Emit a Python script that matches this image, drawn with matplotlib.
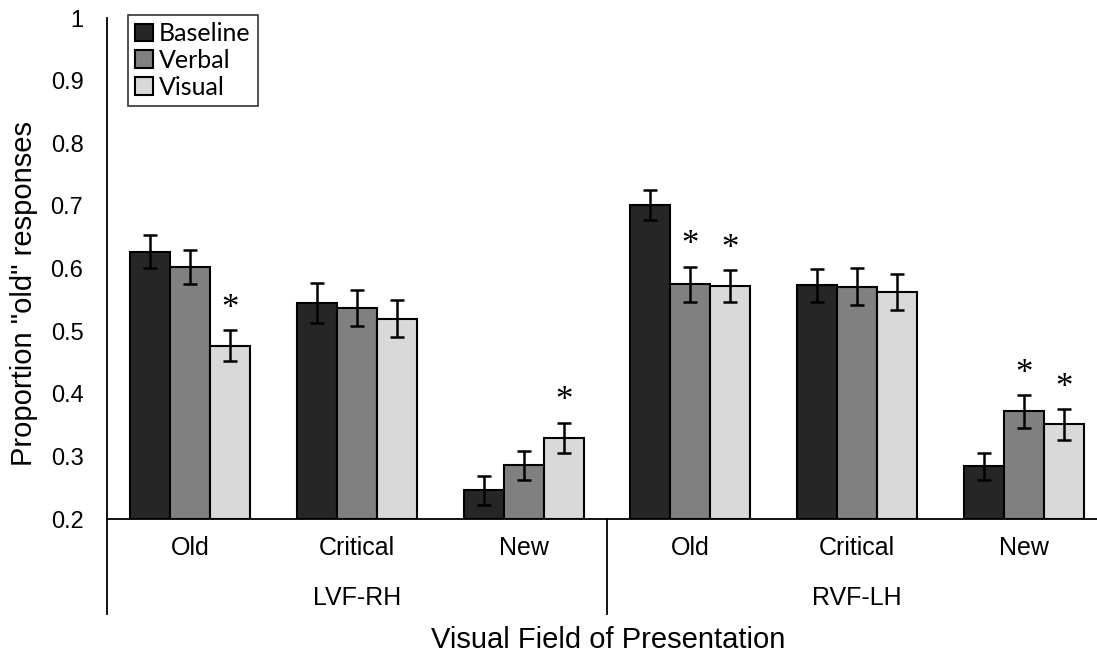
import numpy as np
import matplotlib.pyplot as plt
from matplotlib.lines import Line2D

# data
fields = ["LVF-RH", "RVF-LH"]
items = ["Old", "Critical", "New"]
conditions = ["Baseline", "Verbal", "Visual"]
colors = ["#262626", "#808080", "#d9d9d9"]

baseline = [0.627, 0.545, 0.246, 0.702, 0.573, 0.284]
verbal = [0.602, 0.537, 0.286, 0.575, 0.571, 0.372]
visual = [0.477, 0.520, 0.330, 0.572, 0.562, 0.351]
baseline_err = [0.026, 0.032, 0.023, 0.024, 0.027, 0.021]
verbal_err = [0.027, 0.029, 0.023, 0.028, 0.030, 0.026]
visual_err = [0.024, 0.030, 0.024, 0.026, 0.029, 0.025]
# significance markers (category index, condition index)
stars = [(0, 2), (2, 2), (3, 1), (3, 2), (5, 1), (5, 2)]

values = [baseline, verbal, visual]
errors = [baseline_err, verbal_err, visual_err]

plt.rcParams["font.family"] = ["Liberation Sans", "DejaVu Sans"]

W, H = 1097, 661
fig = plt.figure(figsize=(W / 100, H / 100), dpi=100)
ax = fig.add_axes([107 / W, (H - 519) / H, 1000 / W, 501 / H])

x = np.arange(len(baseline))
width = 0.24
bottom = 0.2
for i, (vals, errs) in enumerate(zip(values, errors)):
    pos = x + (i - 1) * width
    heights = np.array(vals) - bottom
    ax.bar(pos, heights, width, bottom=bottom, color=colors[i],
           edgecolor="black", linewidth=1.5, label=conditions[i], zorder=2)
    ax.errorbar(pos, vals, yerr=errs, fmt="none", ecolor="black",
                elinewidth=1.8, capsize=5, capthick=1.8, zorder=3)

for cat, cond in stars:
    px = x[cat] + (cond - 1) * width
    py = values[cond][cat] + errors[cond][cat]
    ax.annotate("*", (px, py), xytext=(0, 3), textcoords="offset points",
                ha="center", va="bottom", fontsize=25,
                family="Liberation Serif")

ax.set_xlim(-0.5, 5.5)
ax.set_ylim(0.2, 1.0)
ax.set_yticks(np.arange(0.2, 1.01, 0.1))
ax.set_yticklabels(["0.2", "0.3", "0.4", "0.5", "0.6", "0.7", "0.8", "0.9", "1"])
ax.tick_params(axis="y", length=0, labelsize=17, pad=17)
ax.set_xticks([])
for s in ["top", "right"]:
    ax.spines[s].set_visible(False)
ax.spines["left"].set_linewidth(1.3)
ax.spines["bottom"].set_linewidth(1.3)

# category and field labels below the axis
trans = ax.get_xaxis_transform()
for i in x:
    ax.text(i, -0.058, items[i % 3], transform=trans, ha="center",
            va="center", fontsize=18)
for j, f in enumerate(fields):
    ax.text(1 + 3 * j, -0.158, f, transform=trans, ha="center", va="center",
            fontsize=18)
for xv in [-0.5, 2.5]:
    ax.add_line(Line2D([xv, xv], [0, -0.19], transform=trans, color="black",
                       lw=1.3, clip_on=False))

fig.text(608 / W, (H - 640) / H, "Visual Field of Presentation",
         ha="center", va="center", fontsize=21)
fig.text(24 / W, (H - 294) / H, 'Proportion "old" responses', rotation=90,
         ha="center", va="center", fontsize=21)

leg = ax.legend(loc="upper left", bbox_to_anchor=(0.0207, 1.0066),
                frameon=True, fancybox=False, edgecolor="black",
                prop={"family": "Lato", "size": 18},
                handlelength=0.7, handleheight=0.7, handletextpad=0.25,
                labelspacing=0.15, borderpad=0.3, borderaxespad=0)
leg.get_frame().set_linewidth(1.2)

fig.savefig("out.png", dpi=100)
